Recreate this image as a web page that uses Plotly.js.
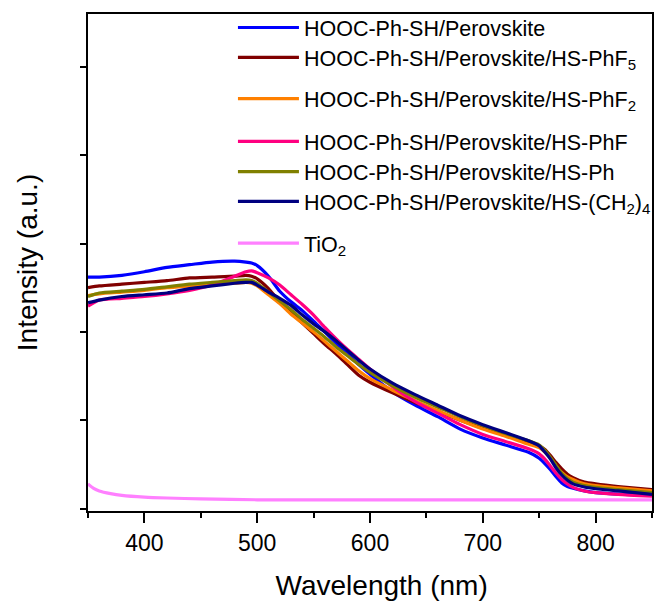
<!DOCTYPE html>
<html>
<head>
<meta charset="utf-8">
<script src="https://cdn.plot.ly/plotly-3.0.1.min.js"></script>
<style>html,body{margin:0;padding:0;background:#fff;}#chart{width:657px;height:606px;}</style>
</head>
<body>
<div id="chart"></div>
<script>
// Wavelength grid (nm) shared by the perovskite spectra
const wavelength = [350,360,380,400,420,440,460,480,490,495,500,510,520,530,540,550,560,570,580,590,600,620,640,660,680,700,720,740,750,755,760,765,770,775,780,790,800,820,850];

const seriesNames = [
  "HOOC-Ph-SH/Perovskite",
  "HOOC-Ph-SH/Perovskite/HS-PhF<sub>5</sub>",
  "HOOC-Ph-SH/Perovskite/HS-PhF<sub>2</sub>",
  "HOOC-Ph-SH/Perovskite/HS-PhF",
  "HOOC-Ph-SH/Perovskite/HS-Ph",
  "HOOC-Ph-SH/Perovskite/HS-(CH<sub>2</sub>)<sub>4</sub>",
  "TiO<sub>2</sub>"
];
const seriesColors = ["#0000ff","#800000","#ff8000","#ff0080","#808000","#000080","#ff80ff"];

const perovskite = [2.62,2.62,2.64,2.68,2.73,2.76,2.79,2.80,2.79,2.78,2.75,2.63,2.46,2.34,2.24,2.12,2.00,1.87,1.75,1.63,1.52,1.32,1.17,1.04,0.90,0.80,0.72,0.64,0.57,0.51,0.44,0.36,0.29,0.25,0.23,0.20,0.18,0.165,0.15];
const phF5 = [2.50,2.52,2.54,2.56,2.58,2.61,2.62,2.63,2.64,2.63,2.60,2.49,2.34,2.22,2.10,1.98,1.86,1.75,1.63,1.51,1.43,1.31,1.20,1.10,1.00,0.91,0.83,0.75,0.71,0.67,0.60,0.52,0.45,0.39,0.35,0.30,0.28,0.25,0.215];
const phF2 = [2.41,2.43,2.45,2.47,2.50,2.52,2.54,2.55,2.56,2.55,2.52,2.42,2.32,2.20,2.10,2.00,1.89,1.78,1.67,1.56,1.47,1.34,1.22,1.11,1.00,0.90,0.82,0.73,0.69,0.64,0.57,0.48,0.41,0.36,0.33,0.28,0.26,0.235,0.20];
const phF = [2.29,2.36,2.38,2.40,2.43,2.47,2.53,2.63,2.68,2.69,2.67,2.61,2.53,2.42,2.31,2.19,2.05,1.92,1.80,1.69,1.58,1.38,1.21,1.08,0.95,0.84,0.76,0.68,0.62,0.56,0.48,0.40,0.33,0.28,0.24,0.20,0.18,0.16,0.14];
const ph = [2.40,2.44,2.46,2.48,2.51,2.54,2.56,2.58,2.59,2.58,2.55,2.45,2.35,2.25,2.14,2.04,1.94,1.83,1.73,1.63,1.54,1.39,1.26,1.15,1.04,0.94,0.85,0.77,0.72,0.66,0.58,0.49,0.40,0.34,0.30,0.26,0.24,0.215,0.18];
const ch2x4 = [2.33,2.36,2.40,2.42,2.44,2.49,2.52,2.55,2.56,2.56,2.53,2.45,2.38,2.30,2.19,2.09,2.00,1.90,1.79,1.68,1.58,1.42,1.29,1.17,1.05,0.95,0.86,0.77,0.71,0.64,0.56,0.46,0.38,0.32,0.28,0.245,0.225,0.20,0.16];

// TiO2 reference spectrum
const tiWavelength = [350,355,360,370,380,400,420,450,500,600,700,800,850];
const tiO2 = [0.28,0.23,0.20,0.17,0.15,0.13,0.12,0.11,0.10,0.10,0.10,0.10,0.10];

const xTicks = [400,500,600,700,800];
const yTicks = [0,1,2,3,4,5];

// vertical placement (paper units) of each legend entry
const legendY = [1.014, 0.954, 0.871, 0.785, 0.724, 0.664, 0.580];
const legendIds = ["legend","legend2","legend3","legend4","legend5","legend6","legend7"];

const ys = [perovskite, phF5, phF2, phF, ph, ch2x4, tiO2];
const traces = ys.map((y, i) => ({
  x: i === 6 ? tiWavelength : wavelength, y: y, type: "scatter", mode: "lines",
  name: seriesNames[i], legend: legendIds[i],
  line: {color: seriesColors[i], width: 3.2, shape: "spline", smoothing: 0.6}
}));

const font = "Liberation Sans, Arial, sans-serif";
const layout = {
  width: 657, height: 606,
  margin: {l: 88, r: 1, t: 14, b: 95},
  paper_bgcolor: "#fff", plot_bgcolor: "#fff",
  font: {family: font, color: "#000"},
  showlegend: true,
  xaxis: {
    range: [350, 850], tickmode: "array", tickvals: xTicks,
    ticks: "outside", ticklen: 10, tickwidth: 2, tickcolor: "#000",
    minor: {tickmode: "linear", tick0: 350, dtick: 50, ticks: "outside", ticklen: 5, tickwidth: 2, tickcolor: "#000"},
    showline: true, linewidth: 2, linecolor: "#000", mirror: true,
    showgrid: false, zeroline: false,
    tickfont: {family: font, size: 23, color: "#000"},
    title: {text: "&nbsp;&nbsp;&nbsp;Wavelength (nm)", font: {family: font, size: 28, color: "#000"}, standoff: 21}
  },
  yaxis: {
    range: [-0.027, 5.597], tickmode: "array", tickvals: yTicks, showticklabels: false,
    ticks: "outside", ticklen: 6, tickwidth: 2, tickcolor: "#000",
    showline: true, linewidth: 2, linecolor: "#000", mirror: true,
    showgrid: false, zeroline: false,
    title: {text: "Intensity (a.u.)", font: {family: font, size: 28, color: "#000"}, standoff: 34}
  }
};
legendIds.forEach((id, i) => {
  layout[id] = {
    x: 0.257, y: legendY[i], xanchor: "left", yanchor: "top",
    bgcolor: "rgba(0,0,0,0)", borderwidth: 0,
    font: {family: font, size: 21.5, color: "#000"},
    itemwidth: 61
  };
});

Plotly.newPlot("chart", traces, layout, {staticPlot: true, displayModeBar: false});
</script>
</body>
</html>
